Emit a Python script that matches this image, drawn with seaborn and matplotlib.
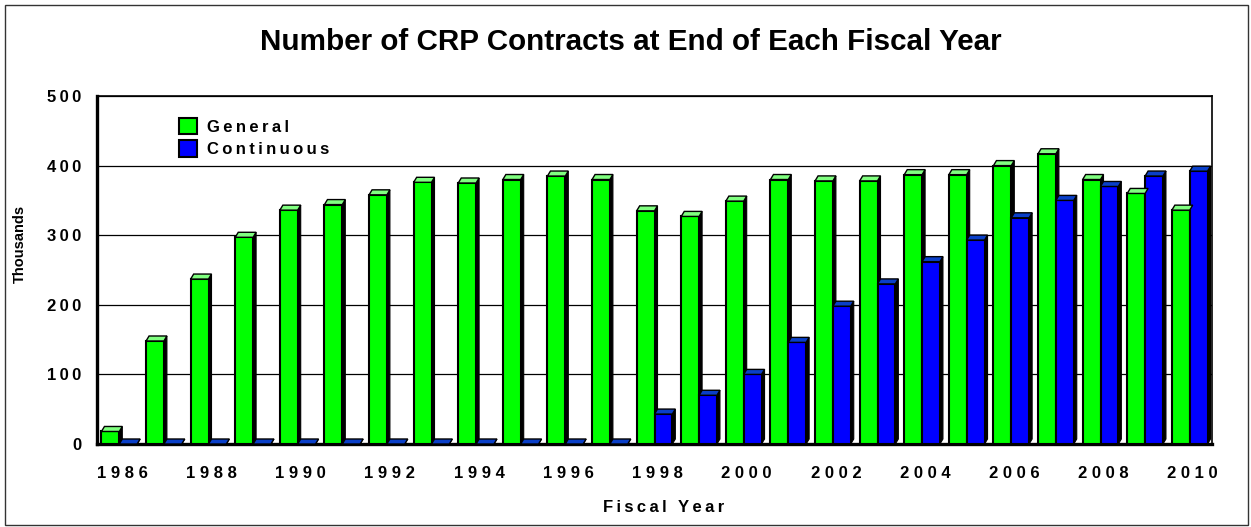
import matplotlib
matplotlib.use("Agg")
import matplotlib.pyplot as plt
from matplotlib.patches import Polygon, Rectangle
import seaborn as sns
import pandas as pd
import numpy as np

years = list(range(1986, 2011))
general = [18, 148, 237, 297, 336, 344, 358, 376, 375, 380, 385, 380, 335, 327,
           349, 380, 378, 378, 387, 387, 400, 417, 380, 360, 336]
continuous = [0, 0, 0, 0, 0, 0, 0, 0, 0, 0, 0, 0, 43, 70,
              100, 146, 198, 230, 262, 293, 325, 350, 370, 385, 392]
series_names = ["General", "Continuous"]
tick_labels = [str(y) if y % 2 == 0 else "" for y in years]
y_ticks = [0, 100, 200, 300, 400, 500]

face_colors = ["#00FF00", "#0000FF"]
cap_colors = ["#80FF80", "#0A3FC8"]

W, H, DPI = 1251, 527, 100
sns.set_theme(style="white")
plt.rcParams["font.family"] = ["Liberation Sans", "DejaVu Sans"]
for k in ["text.color", "axes.labelcolor", "xtick.color", "ytick.color"]:
    plt.rcParams[k] = "black"
FAM = ["Liberation Sans", "DejaVu Sans"]


def spaced(s, sep=" "):
    return sep.join(list(s))


df = pd.DataFrame({
    "year": [str(y) for y in years] * 2,
    "value": general + continuous,
    "series": [series_names[0]] * len(years) + [series_names[1]] * len(years),
})

fig = plt.figure(figsize=(W / DPI, H / DPI), dpi=DPI)
L, R, T, B = 97, 1212, 96, 444
ax = fig.add_axes([L / W, 1 - B / H, (R - L) / W, (B - T) / H])

sns.barplot(data=df, x="year", y="value", hue="series", palette=face_colors,
            width=0.8, saturation=1, edgecolor="black", linewidth=1.5,
            dodge=True, ax=ax, zorder=3)

ax.set_ylim(0, 500)
ax.set_xlim(-0.5, len(years) - 0.5)
ax.set_yticks(y_ticks)
ax.yaxis.grid(True, color="black", linewidth=0.9)
ax.set_axisbelow(True)

# pseudo-3D caps and side faces computed from each bar's geometry
dx_px, dy_px = 3.0, 5.0
dx = dx_px / (R - L) * (len(years))
dy = dy_px / (B - T) * 500
for ci, cont in enumerate(ax.containers):
    for bar in cont:
        x0 = bar.get_x()
        x1 = x0 + bar.get_width()
        y1 = bar.get_height()
        side = Polygon([(x1, 0), (x1 + dx, dy), (x1 + dx, y1 + dy), (x1, y1)],
                       closed=True, facecolor="black", edgecolor="black",
                       linewidth=0.8, zorder=2.9)
        cap = Polygon([(x0, y1), (x1, y1), (x1 + dx, y1 + dy), (x0 + dx, y1 + dy)],
                      closed=True, facecolor=cap_colors[ci], edgecolor="black",
                      linewidth=1.0, zorder=3.1)
        ax.add_patch(side)
        ax.add_patch(cap)

for s in ["top", "right"]:
    ax.spines[s].set_linewidth(1.2)
    ax.spines[s].set_color("black")
ax.spines["left"].set_linewidth(2.4)
ax.spines["left"].set_color("black")
ax.spines["bottom"].set_linewidth(2.4)
ax.spines["bottom"].set_color("black")

ax.set_yticklabels([spaced(str(t), "\u2009") for t in y_ticks],
                   fontsize=12, fontweight="bold", family=FAM)
tick_shift = 3 / (R - L) * len(years)
ax.set_xticks(np.arange(len(years)) + tick_shift)
ax.set_xticklabels([spaced(t, " ") for t in tick_labels],
                   fontsize=12, fontweight="bold", family=FAM)
ax.tick_params(axis="y", length=0, pad=11)
ax.tick_params(axis="x", length=0, pad=16)
ax.set_xlabel(spaced("Fiscal Year", "\u2009"), fontsize=12, fontweight="bold",
              family=FAM)
ax.xaxis.set_label_coords(0.5 + 9 / (R - L), -(507 - B) / (B - T))
ax.xaxis.label.set_va("center")
ax.set_ylabel("Thousands", fontsize=10.5, fontweight="bold", family=FAM)
ax.yaxis.set_label_coords(-(L - 20) / (R - L), (B - 244) / (B - T))
ax.yaxis.label.set_va("center")

handles, labels = ax.get_legend_handles_labels()
leg = ax.legend(handles, [spaced(l, "\u2009") for l in labels],
                loc="upper left", bbox_to_anchor=(0.0675, 0.957), frameon=False,
                handlelength=1.1, handleheight=1.15, handletextpad=0.6,
                labelspacing=0.35, borderaxespad=0,
                prop={"family": FAM, "weight": "bold", "size": 12})

fig.text(0.504, 0.92, "Number of CRP Contracts at End of Each Fiscal Year",
         ha="center", va="center", fontsize=21.3, fontweight="bold", family=FAM)

fig.add_artist(Rectangle((5 / W, 2 / H), 1243 / W, (H - 7) / H,
                         transform=fig.transFigure, fill=False,
                         edgecolor="#333333", linewidth=1.0))

fig.savefig("out.png", dpi=DPI)
